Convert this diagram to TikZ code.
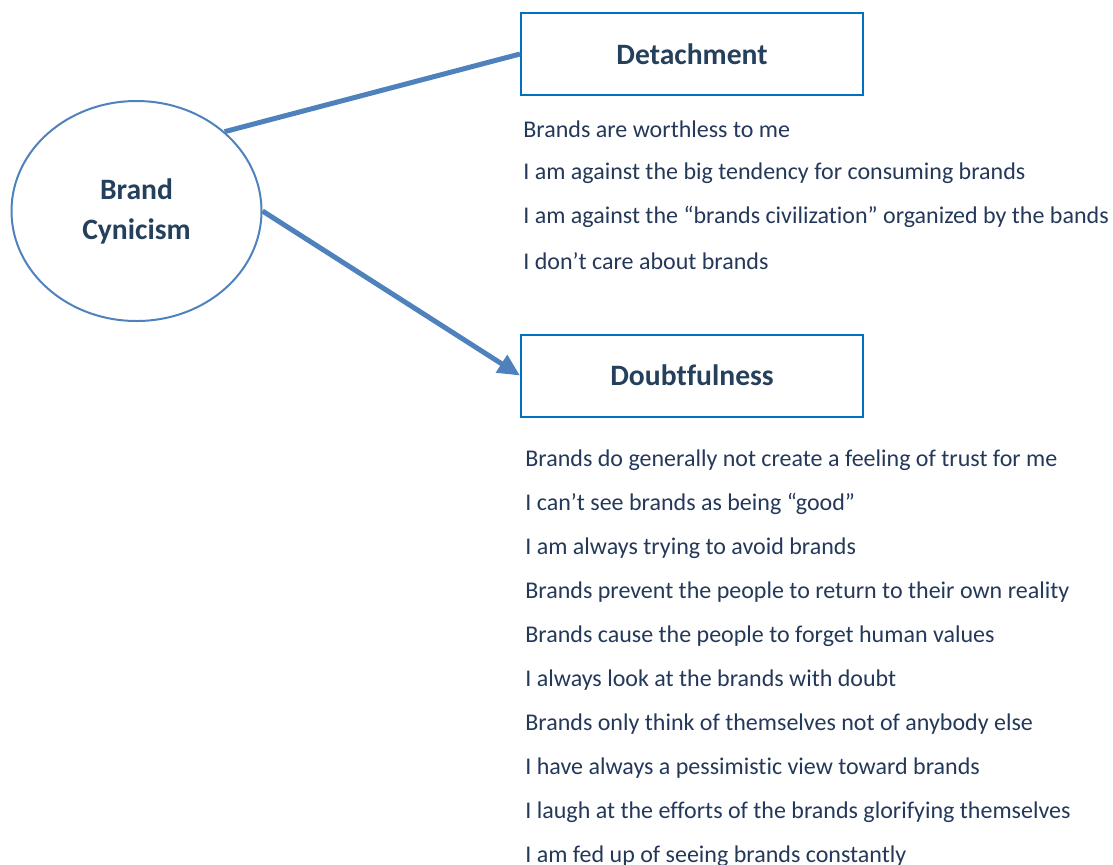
\documentclass[tikz,border=0pt]{standalone}
\usepackage{fontspec}
\setmainfont{Carlito}[Ligatures=NoCommon]
\usepackage{tikz}
\usetikzlibrary{arrows.meta}
\usetikzlibrary{shapes.geometric,positioning}
\definecolor{lineblue}{RGB}{79,129,189}
\definecolor{boxblue}{RGB}{0,112,192}
\definecolor{headtext}{RGB}{36,64,92}
\definecolor{itemtext}{RGB}{36,56,90}

\tikzset{
  latent/.style={ellipse, draw=lineblue, line width=1pt, minimum width=125pt, minimum height=110pt,
    align=center, text=headtext, font=\fontsize{14.8}{20}\selectfont\bfseries},
  factor/.style={rectangle, draw=boxblue, line width=1pt, minimum width=171pt, minimum height=41pt,
    text=headtext, font=\fontsize{14.8}{16}\selectfont\bfseries},
  item/.style={anchor=west, inner sep=0pt, text=itemtext, font=\fontsize{12}{14}\selectfont},
  link/.style={draw=lineblue, line width=2.5pt}
}

\begin{document}
\begin{tikzpicture}[>={Triangle[length=11pt,width=10pt]}, x=0.5pt, y=-0.5pt]
        \useasboundingbox (0,0) rectangle (1113,864);
        \path 
        (136.5,211) coordinate (cpos)
        (692,54) coordinate (dpos)
        (692,375.5) coordinate (upos)
        ;   
        \node[latent] (cyn) at (cpos) {Brand\\Cynicism};
        \node[factor] (det) at (dpos) {Detachment};
        \node[factor] (dbt) at (upos) {Doubtfulness};

        % items under each factor
        \foreach \txt [count=\i] in {Brands are worthless to me,
            I am against the big tendency for consuming brands,
            I am against the “brands civilization” organized by the bands,
            I don’t care about brands}
          \node[item] (det\i) at (523,85+44*\i) {\txt};

        \foreach \txt [count=\i] in {Brands do generally not create a feeling of trust for me,
            I can’t see brands as being “good”,
            I am always trying to avoid brands,
            Brands prevent the people to return to their own reality,
            Brands cause the people to forget human values,
            I always look at the brands with doubt,
            Brands only think of themselves not of anybody else,
            I have always a pessimistic view toward brands,
            I laugh at the efforts of the brands glorifying themselves,
            I am fed up of seeing brands constantly}
          \node[item] (dbt\i) at (525,416+44*\i) {\txt};

        \draw[link] (cyn.42) -- (det.west);
        \draw[link,->] (cyn.east) -- (dbt.west);
\end{tikzpicture}
\end{document}
